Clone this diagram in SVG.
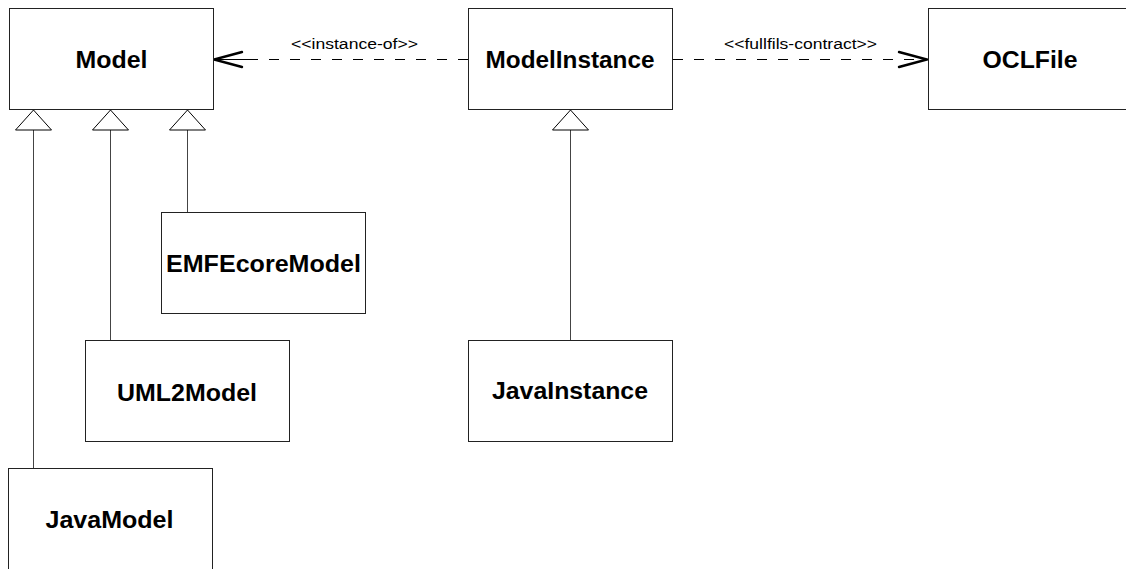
<svg xmlns="http://www.w3.org/2000/svg" width="1126" height="569" viewBox="0 0 1126 569">
  <style>
    .box { fill: #ffffff; stroke: #222222; stroke-width: 1; }
    .name { font-family: "Liberation Sans", Arial, sans-serif; font-weight: bold; font-size: 23.5px; text-anchor: middle; fill: #000000; }
    .label { font-family: "Liberation Sans", Arial, sans-serif; font-size: 15.5px; text-anchor: middle; fill: #000000; }
    .line { fill: none; stroke: #444444; stroke-width: 1; }
    .dash { fill: none; stroke: #000000; stroke-width: 1; stroke-dasharray: 10 11; }
    .tri { fill: #ffffff; stroke: #000000; stroke-width: 1; }
    .open { fill: none; stroke: #000000; stroke-width: 2.4; stroke-linecap: round; stroke-linejoin: miter; }
  </style>
  <rect width="1126" height="569" fill="#ffffff"/>

  <g id="connectors">
    <!-- generalisations to Model -->
    <line class="line" x1="33.5" y1="130" x2="33.5" y2="468"/>
    <polygon class="tri" points="33.5,110 15.5,130 51.5,130"/>
    <line class="line" x1="110.5" y1="130" x2="110.5" y2="340"/>
    <polygon class="tri" points="110.5,110 92.5,130 128.5,130"/>
    <line class="line" x1="187.5" y1="130" x2="187.5" y2="212"/>
    <polygon class="tri" points="187.5,110 169.5,130 205.5,130"/>
    <!-- generalisation to ModelInstance -->
    <line class="line" x1="570.5" y1="130" x2="570.5" y2="340"/>
    <polygon class="tri" points="570.5,110 552.5,130 588.5,130"/>
    <!-- instance-of dependency -->
    <line class="dash" x1="468" y1="59.5" x2="213" y2="59.5"/>
    <line class="line" x1="213" y1="59.5" x2="250" y2="59.5" style="stroke:#000"/>
    <polyline class="open" points="242,52 214,59.5 242,67"/>
    <text class="label" x="354.5" y="49" textLength="127" lengthAdjust="spacingAndGlyphs">&lt;&lt;instance-of&gt;&gt;</text>
    <!-- fullfils-contract dependency -->
    <line class="dash" x1="673" y1="59.5" x2="928" y2="59.5"/>
    <polyline class="open" points="899,52 927,59.5 899,67"/>
    <text class="label" x="800.5" y="49" textLength="153" lengthAdjust="spacingAndGlyphs">&lt;&lt;fullfils-contract&gt;&gt;</text>
  </g>

  <g id="Model">
    <rect class="box" x="9.5" y="8.5" width="204" height="101"/>
    <text class="name" x="111.5" y="68" textLength="72" lengthAdjust="spacingAndGlyphs">Model</text>
  </g>
  <g id="ModelInstance">
    <rect class="box" x="468.5" y="8.5" width="204" height="101"/>
    <text class="name" x="570" y="68" textLength="169" lengthAdjust="spacingAndGlyphs">ModelInstance</text>
  </g>
  <g id="OCLFile">
    <rect class="box" x="928.5" y="8.5" width="204" height="101"/>
    <text class="name" x="1030" y="68" textLength="95" lengthAdjust="spacingAndGlyphs">OCLFile</text>
  </g>
  <g id="EMFEcoreModel">
    <rect class="box" x="161.5" y="212.5" width="204" height="101"/>
    <text class="name" x="263.5" y="272" textLength="195" lengthAdjust="spacingAndGlyphs">EMFEcoreModel</text>
  </g>
  <g id="UML2Model">
    <rect class="box" x="85.5" y="340.5" width="204" height="101"/>
    <text class="name" x="187" y="401" textLength="140" lengthAdjust="spacingAndGlyphs">UML2Model</text>
  </g>
  <g id="JavaInstance">
    <rect class="box" x="468.5" y="340.5" width="204" height="101"/>
    <text class="name" x="570" y="399" textLength="156" lengthAdjust="spacingAndGlyphs">JavaInstance</text>
  </g>
  <g id="JavaModel">
    <rect class="box" x="8.5" y="468.5" width="204" height="101"/>
    <text class="name" x="109.5" y="528" textLength="128" lengthAdjust="spacingAndGlyphs">JavaModel</text>
  </g>
</svg>
